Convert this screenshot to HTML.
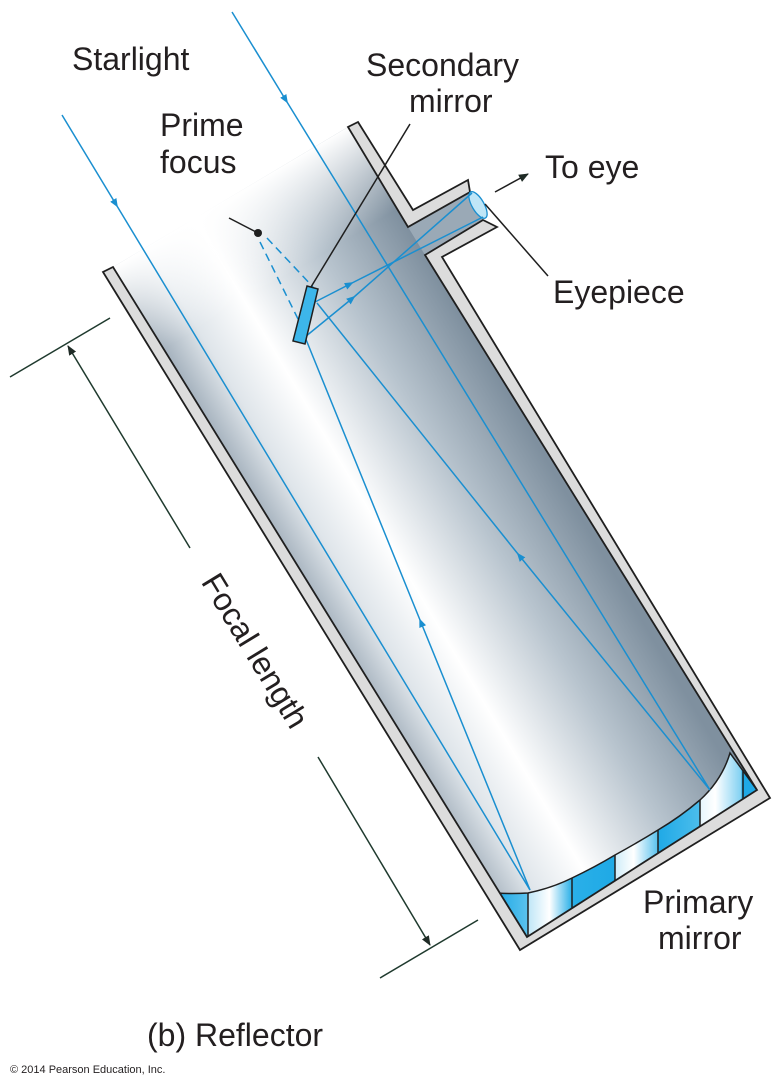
<!DOCTYPE html>
<html><head><meta charset="utf-8"><style>
html,body{margin:0;padding:0;background:#fff;}
svg{display:block;}
text{font-family:"Liberation Sans",Arial,sans-serif;fill:#231f20;}
</style></head><body>
<svg width="782" height="1088" viewBox="0 0 782 1088" xmlns="http://www.w3.org/2000/svg">
<defs>
<linearGradient id="tg" gradientUnits="userSpaceOnUse" x1="113" y1="267" x2="348" y2="127">
<stop offset="0" stop-color="#a3b0bc"/>
<stop offset="0.15" stop-color="#dfe5ea"/>
<stop offset="0.35" stop-color="#ffffff"/>
<stop offset="0.68" stop-color="#b8c4ce"/>
<stop offset="1" stop-color="#7f909f"/>
</linearGradient>
<linearGradient id="fade" gradientUnits="userSpaceOnUse" x1="230" y1="197" x2="280" y2="280">
<stop offset="0" stop-color="#fff" stop-opacity="1"/>
<stop offset="1" stop-color="#fff" stop-opacity="0"/>
</linearGradient>
<linearGradient id="mg" gradientUnits="userSpaceOnUse" x1="497" y1="0" x2="760" y2="0">
<stop offset="0" stop-color="#1fa9e6"/>
<stop offset="0.118" stop-color="#5cc3ee"/>
<stop offset="0.118" stop-color="#bfe6f7"/>
<stop offset="0.2" stop-color="#ffffff"/>
<stop offset="0.285" stop-color="#2ab0e8"/>
<stop offset="0.45" stop-color="#1fa9e6"/>
<stop offset="0.45" stop-color="#d0edf9"/>
<stop offset="0.52" stop-color="#ffffff"/>
<stop offset="0.61" stop-color="#5cc3ee"/>
<stop offset="0.61" stop-color="#1fa9e6"/>
<stop offset="0.77" stop-color="#4bbdec"/>
<stop offset="0.77" stop-color="#e5f6fd"/>
<stop offset="0.83" stop-color="#ffffff"/>
<stop offset="0.93" stop-color="#7fd0f2"/>
<stop offset="0.93" stop-color="#1fa9e6"/>
<stop offset="1" stop-color="#1fa9e6"/>
</linearGradient>
<marker id="ba" viewBox="0 0 10 10" refX="8" refY="5" markerWidth="9" markerHeight="9" markerUnits="userSpaceOnUse" orient="auto">
<path d="M0,1 L10,5 L0,9 Z" fill="#1a8fd0"/></marker>
<marker id="ka" viewBox="0 0 10 10" refX="9" refY="5" markerWidth="10" markerHeight="10" markerUnits="userSpaceOnUse" orient="auto">
<path d="M0,1 L10,5 L0,9 Z" fill="#1f2b26"/></marker>
</defs>

<polygon points="113,267 348,127 408,227 470,192 483,220 425,255 757,790 527,937" fill="url(#tg)"/>
<polygon points="113,267 348,127 408,227 470,192 483,220 425,255 757,790 527,937" fill="url(#fade)"/>
<polygon points="408,227 470,192 483,220 425,255" fill="#9aa9b6"/>

<path d="M497,893 Q512,894 528,893 Q552,888 572,878 Q595,867 615,855 Q637,843 658,830 Q680,817 700,800 Q722,780 730,753 L757,790 L758,805 L528,942 L522,940 Z" fill="url(#mg)" stroke="#1f1f1f" stroke-width="1.5"/>
<g stroke="#1f1f1f" stroke-width="1.5">
<line x1="528" y1="893" x2="528" y2="942"/>
<line x1="572" y1="878" x2="572" y2="916"/>
<line x1="615" y1="855" x2="615" y2="890"/>
<line x1="658" y1="830" x2="658" y2="864"/>
<line x1="700" y1="800" x2="700" y2="839"/>
<line x1="743" y1="770" x2="743" y2="813"/>
</g>

<polygon points="358,122 413,210 468,180 470,192 408,227 348,127" fill="#dcdcdc" stroke="#1f1f1f" stroke-width="1.8"/>
<polygon points="497,227 442,257 770,798 520,950 103,272 113,267 527,937 757,790 425,255 483,220" fill="#dcdcdc" stroke="#1f1f1f" stroke-width="1.8"/>

<ellipse cx="478" cy="205" rx="6" ry="15" transform="rotate(-30 478 205)" fill="#bfe6f7" stroke="#1a8fd0" stroke-width="1.3"/>

<g stroke="#1a8fd0" stroke-width="1.5" fill="none">
<line x1="62" y1="115" x2="117" y2="206" marker-end="url(#ba)"/>
<line x1="117" y1="206" x2="530" y2="890"/>
<line x1="232" y1="12" x2="287" y2="102" marker-end="url(#ba)"/>
<line x1="287" y1="102" x2="710" y2="790"/>
<line x1="530" y1="890" x2="420" y2="620" marker-end="url(#ba)"/>
<line x1="420" y1="620" x2="305" y2="337"/>
<line x1="710" y1="790" x2="518" y2="554" marker-end="url(#ba)"/>
<line x1="518" y1="554" x2="317" y2="303"/>
<line x1="315" y1="302" x2="352" y2="283" marker-end="url(#ba)"/>
<line x1="352" y1="283" x2="483" y2="217"/>
<line x1="305" y1="337" x2="354" y2="297" marker-end="url(#ba)"/>
<line x1="354" y1="297" x2="472" y2="193"/>
<line x1="260" y1="242" x2="300" y2="323" stroke-dasharray="8,5"/>
<line x1="267" y1="238" x2="313" y2="287" stroke-dasharray="8,5"/>
</g>

<polygon points="307,286 318,289 305,344 293,341" fill="#3db6ea" stroke="#1f1f1f" stroke-width="1.5"/>

<g stroke="#1f1f1f" stroke-width="1.5" fill="none">
<line x1="410" y1="124" x2="311" y2="287"/>
<line x1="229" y1="218" x2="258" y2="233"/>
<line x1="485" y1="204" x2="548" y2="276"/>
<line x1="495" y1="192" x2="528" y2="174" marker-end="url(#ka)"/>
</g>
<circle cx="258" cy="233" r="4" fill="#1f1f1f"/>

<g stroke="#1f3a2e" stroke-width="1.5">
<line x1="10" y1="377" x2="110" y2="318"/>
<line x1="380" y1="978" x2="478" y2="920"/>
<line x1="190" y1="548" x2="68" y2="346" marker-end="url(#ka)"/>
<line x1="318" y1="757" x2="430" y2="945" marker-end="url(#ka)"/>
</g>
<text x="0" y="0" font-size="32" text-anchor="middle" dominant-baseline="middle" transform="translate(253,652) rotate(58.7)">Focal length</text>

<text x="72" y="70" font-size="32">Starlight</text>
<text x="160" y="136" font-size="32">Prime</text>
<text x="160" y="173" font-size="32">focus</text>
<text x="366" y="76" font-size="32">Secondary</text>
<text x="409" y="112" font-size="32">mirror</text>
<text x="545" y="178" font-size="32">To eye</text>
<text x="553" y="303" font-size="32">Eyepiece</text>
<text x="643" y="913" font-size="32">Primary</text>
<text x="658" y="949" font-size="32">mirror</text>
<text x="147" y="1046" font-size="32">(b) Reflector</text>
<text x="10" y="1073" font-size="11">© 2014 Pearson Education, Inc.</text>
</svg>
</body></html>
